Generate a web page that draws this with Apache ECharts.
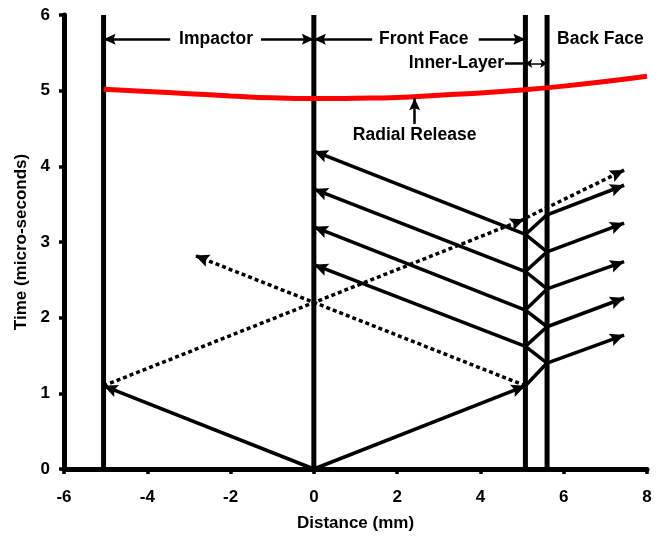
<!DOCTYPE html>
<html><head><meta charset="utf-8">
<script src="https://cdn.jsdelivr.net/npm/echarts@6/dist/echarts.min.js"></script>
<style>html,body{margin:0;padding:0;background:#fff}#c{width:662px;height:537px}</style>
</head><body><div id="c"></div>
<script>
// ---- data ----
const xRange = [-6, 8, 2];          // min, max, interval (Distance, mm)
const yRange = [0, 6, 1];           // min, max, interval (Time, micro-seconds)
const wallX = [-5.05, 0, 5.08, 5.6]; // impactor back, impact face, inner-layer faces
const releaseX = [-5.05, -4, -3, -2, -1, 0, 1, 2, 3, 4, 5, 6, 7, 8];
const releaseT = [5.02, 4.99, 4.96, 4.93, 4.905, 4.895, 4.9, 4.91, 4.94, 4.97, 5.01, 5.06, 5.12, 5.19];
// solid wave paths with arrowheads at the end: [x1, t1, x2, t2]
const solidArrows = [
  [0, 0, -5.05, 1.1], [0, 0, 5.08, 1.1],
  [5.08, 1.62, 0, 2.7], [5.08, 2.1, 0, 3.2], [5.08, 2.61, 0, 3.7], [5.08, 3.1, 0, 4.2]
];
// reflections inside the inner layer
const innerLeftT = [1.1, 1.62, 2.1, 2.61, 3.1];
const innerRightT = [1.4, 1.88, 2.38, 2.87, 3.36];
// transmitted waves beyond the back face
const outX = 7.45;
const outT = [1.77, 2.26, 2.74, 3.25, 3.75];
// dotted wave paths with arrowheads
const dottedArrows = [
  [-5.05, 1.1, 5.05, 3.3], [5.1, 3.32, 7.45, 3.95], [5.08, 1.1, -2.85, 2.82]
];
// annotations
const labelT = 5.68, innerT = 5.36;
const labels = [
  {text: 'Impactor', x: -2.35, t: labelT, align: 'center'},
  {text: 'Front Face', x: 2.64, t: labelT, align: 'center'},
  {text: 'Back Face', x: 6.88, t: labelT, align: 'center'},
  {text: 'Inner-Layer', x: 4.57, t: innerT, align: 'right'},
  {text: 'Radial Release', x: 2.42, t: 4.41, align: 'center'}
];
const headerArrows = [
  [-3.45, labelT, -5.05, labelT], [-1.27, labelT, 0, labelT],
  [1.4, labelT, 0, labelT], [3.96, labelT, 5.08, labelT]
];
const releaseArrow = [2.42, 4.56, 2.42, 4.9];

// ---- chart ----
const FONT = '"Liberation Sans", Arial, sans-serif';
// arrowhead whose tip sits at the symbol centre (invisible point balances the bbox)
const HEAD = 'path://M0 0L10 17L0 14L-10 17ZM0 -17L0.01 -17Z';
const chart = echarts.init(document.getElementById('c'));

function seg(s, startSym, endSym) {
  return [{coord: [s[0], s[1]], symbol: startSym}, {coord: [s[2], s[3]], symbol: endSym}];
}
function mlSeries(name, segs, style, startSym, endSym, size) {
  return {
    name, type: 'line', data: [], silent: true, animation: false,
    markLine: {
      silent: true, animation: false, symbolSize: size || [13, 28],
      label: {show: false}, emphasis: {disabled: true},
      lineStyle: Object.assign({color: '#000', width: 3.5, type: 'solid', cap: 'butt'}, style),
      data: segs.map(s => seg(s, startSym, endSym))
    }
  };
}

const series = [];
wallX.forEach((x, i) => series.push({
  name: 'wall' + i, type: 'line', data: [[x, yRange[0]], [x, yRange[1]]],
  symbol: 'none', silent: true, animation: false,
  lineStyle: {color: '#000', width: 5}
}));
series.push({
  name: 'release', type: 'line', smooth: true, symbol: 'none', silent: true, animation: false,
  data: releaseX.map((x, i) => [x, releaseT[i]]),
  lineStyle: {color: '#ff0000', width: 5}
});
series.push(mlSeries('solid', solidArrows, {}, 'none', HEAD));
const zig = [];
innerLeftT.forEach((t, i) => {
  zig.push([wallX[2], t, wallX[3], innerRightT[i]]);
  if (i + 1 < innerLeftT.length) zig.push([wallX[2], innerLeftT[i + 1], wallX[3], innerRightT[i]]);
});
series.push(mlSeries('zig', zig, {}, 'none', 'none'));
series.push(mlSeries('out', innerRightT.map((t, i) => [wallX[3], t, outX, outT[i]]), {}, 'none', HEAD));
series.push(mlSeries('dotted', dottedArrows, {type: [4, 3]}, 'none', HEAD));
series.push(mlSeries('header', headerArrows, {width: 2.5}, 'none', HEAD, [11, 24]));
series.push(mlSeries('innerLine', [[labels[3].x + 0.02, innerT, wallX[2], innerT]], {width: 2.5}, 'none', 'none'));
series.push(mlSeries('innerArrow', [[wallX[2], innerT, wallX[3], innerT]], {width: 1.5}, 'arrow', 'arrow', [7, 7]));
series.push(mlSeries('releaseArrow', [releaseArrow], {width: 2.5}, 'none', HEAD, [11, 24]));

chart.setOption({
  backgroundColor: '#fff',
  animation: false,
  grid: {left: 64, right: 15, top: 15, bottom: 68, containLabel: false},
  xAxis: {
    type: 'value', min: xRange[0], max: xRange[1], interval: xRange[2],
    name: 'Distance (mm)', nameLocation: 'middle', nameGap: 46,
    nameTextStyle: {fontFamily: FONT, fontWeight: 'bold', fontSize: 17, color: '#000'},
    axisLine: {onZero: false, lineStyle: {color: '#000', width: 5}},
    axisTick: {show: true, length: 5, lineStyle: {color: '#000', width: 3.5}},
    axisLabel: {margin: 20, fontFamily: FONT, fontWeight: 'bold', fontSize: 17, color: '#000'},
    splitLine: {show: false}
  },
  yAxis: {
    type: 'value', min: yRange[0], max: yRange[1], interval: yRange[2],
    name: 'Time (micro-seconds)', nameLocation: 'middle', nameGap: 33,
    nameTextStyle: {fontFamily: FONT, fontWeight: 'bold', fontSize: 17, color: '#000'},
    axisLine: {show: true, onZero: false, lineStyle: {color: '#000', width: 5}},
    axisTick: {show: true, length: 5, lineStyle: {color: '#000', width: 3.5}},
    axisLabel: {margin: 14, fontFamily: FONT, fontWeight: 'bold', fontSize: 17, color: '#000'},
    splitLine: {show: false}
  },
  series
});

const graphics = labels.map(l => {
  const p = chart.convertToPixel({gridIndex: 0}, [l.x, l.t]);
  return {
    type: 'text', silent: true, z: 100,
    style: {
      text: l.text, x: p[0], y: p[1],
      font: 'bold 17.5px ' + FONT, fill: '#000',
      textAlign: l.align, textVerticalAlign: 'middle',
      align: l.align, verticalAlign: 'middle'
    }
  };
});
chart.setOption({graphic: graphics});
</script>
</body></html>
